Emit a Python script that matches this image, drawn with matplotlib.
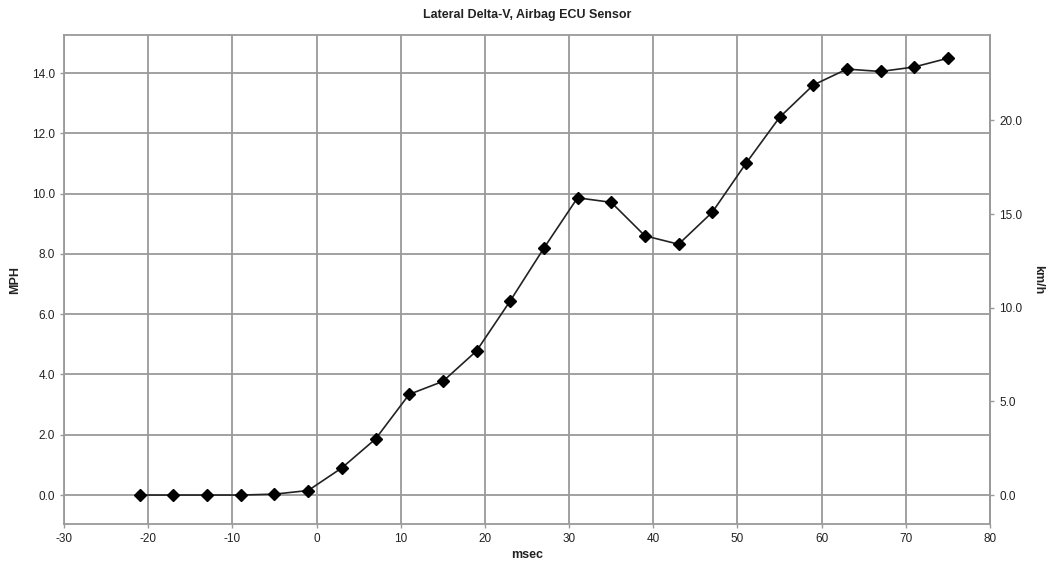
import matplotlib
matplotlib.use("Agg")
import matplotlib.pyplot as plt

msec = [-21, -17, -13, -9, -5, -1, 3, 7, 11, 15, 19, 23, 27, 31, 35, 39, 43, 47, 51, 55, 59, 63, 67, 71, 75]
mph = [0.0, 0.0, 0.0, 0.0, 0.03, 0.15, 0.9, 1.86, 3.34, 3.77, 4.78, 6.44, 8.19, 9.86, 9.71, 8.6, 8.32, 9.38, 11.0, 12.53, 13.6, 14.13, 14.05, 14.2, 14.49]
x_ticks = [-30, -20, -10, 0, 10, 20, 30, 40, 50, 60, 70, 80]
y_ticks = [0, 2, 4, 6, 8, 10, 12, 14]
kmh_ticks = [0, 5, 10, 15, 20]
MPH_TO_KMH = 1.609344

plt.rcParams['font.family'] = ['Liberation Sans', 'DejaVu Sans']

fig = plt.figure(figsize=(10.48, 5.63), dpi=100)
ax = fig.add_axes([0.0611, 0.0693, 0.8836, 0.8685])

gridc = '#9a9a9a'
txtc = '#222222'
fs = 8.5
ax.set_xlim(-30, 80)
ax.set_ylim(-0.96, 15.26)
ax.set_xticks(x_ticks)
ax.set_yticks(y_ticks)
ax.set_xticklabels([str(v) for v in x_ticks])
ax.set_yticklabels([f"{v:.1f}" for v in y_ticks])
ax.grid(True, color=gridc, linewidth=1.3)
ax.set_axisbelow(True)
for s in ax.spines.values():
    s.set_color(gridc)
    s.set_linewidth(1.3)
ax.tick_params(axis='both', colors=gridc, labelcolor=txtc, labelsize=fs, length=3, width=1)

ax.plot(msec, mph, color=txtc, linewidth=1.2, marker='D', markersize=6.5,
        markerfacecolor='black', markeredgecolor='black', zorder=3)

sec = ax.secondary_yaxis('right', functions=(lambda v: v * MPH_TO_KMH, lambda v: v / MPH_TO_KMH))
sec.set_yticks(kmh_ticks)
sec.set_yticklabels([f"{v:.1f}" for v in kmh_ticks])
sec.tick_params(axis='y', colors=gridc, labelcolor=txtc, labelsize=fs, length=3, width=1)
sec.spines['right'].set_color(gridc)
sec.spines['right'].set_linewidth(1.3)
sec.set_ylabel('km/h', fontsize=9, fontweight='bold', rotation=-90, labelpad=16, color=txtc)

ax.set_xlabel('msec', fontsize=9, fontweight='bold', color=txtc, labelpad=3)
ax.set_ylabel('MPH', fontsize=9, fontweight='bold', color=txtc, labelpad=8)
ax.set_title('Lateral Delta-V, Airbag ECU Sensor', fontsize=9, fontweight='bold', color=txtc, pad=12)

fig.savefig('out.png', dpi=100)
